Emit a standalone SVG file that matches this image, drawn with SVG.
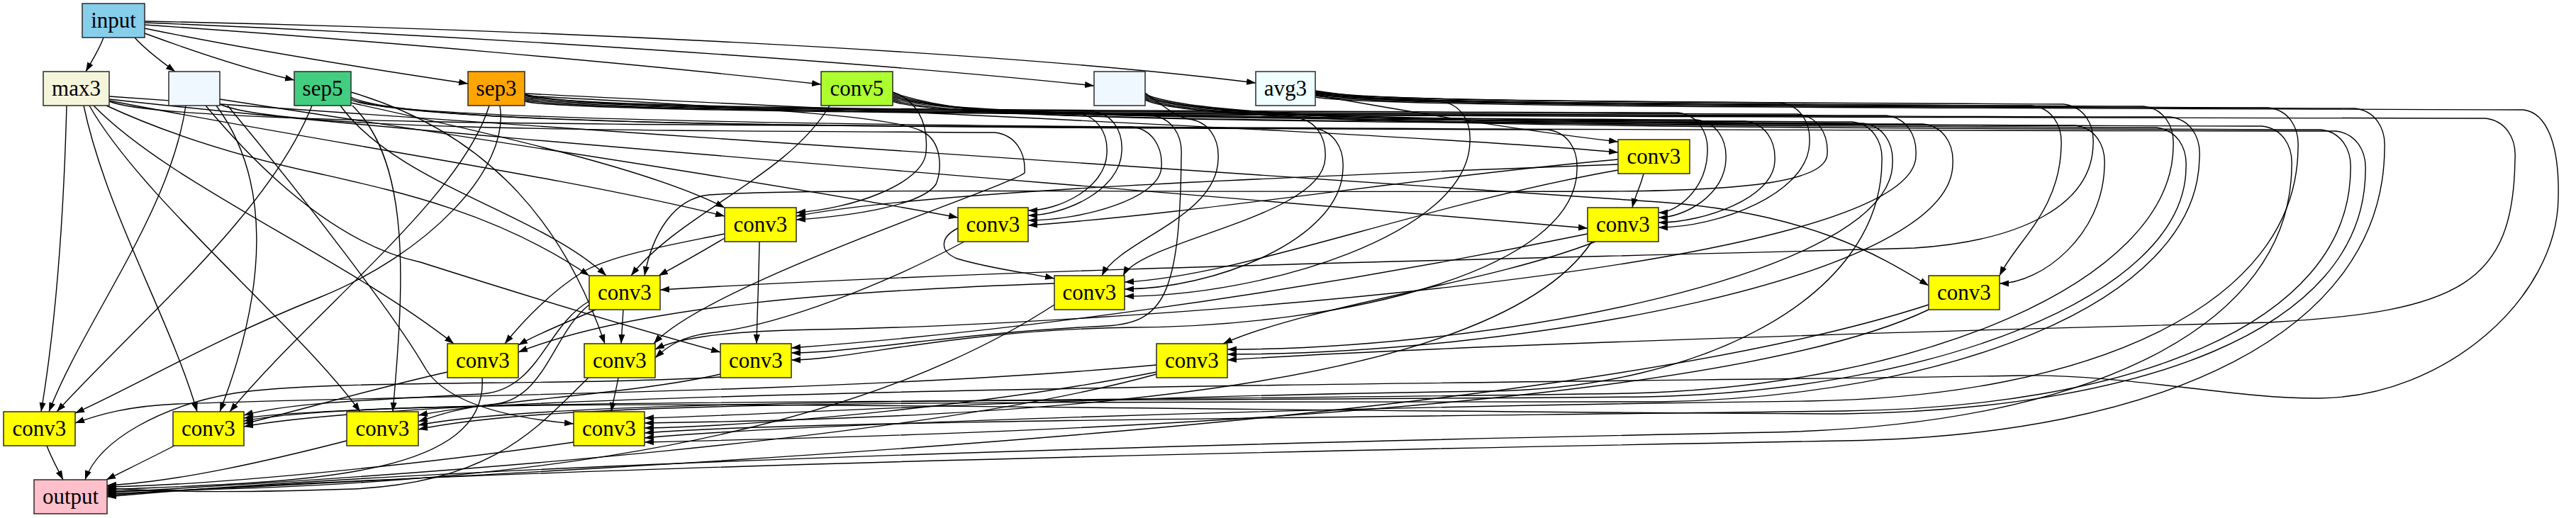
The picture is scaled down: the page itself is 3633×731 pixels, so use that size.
<svg xmlns="http://www.w3.org/2000/svg" width="3633" height="731" viewBox="0 0 3633 731">
<defs>
<marker id="ah" markerWidth="14" markerHeight="10" refX="13" refY="5" orient="auto" markerUnits="userSpaceOnUse"><path d="M0,0.4 L13,5 L0,9.6 z" fill="#000"/></marker>
<style>
.e path{fill:none;stroke:#000;stroke-width:1.4;marker-end:url(#ah)}
.n rect{stroke:#2a2a2a;stroke-width:1.5}
.n text{font-family:'Liberation Serif','Times New Roman',serif;font-size:31px;text-anchor:middle;fill:#000}
.c3 rect{fill:#ffff00}
</style>
</defs>
<rect width="3633" height="731" fill="#fff"/>
<g id="connectors" class="e">
<path d="M 146,53 C 140,70 130,85 121,101"/>
<path d="M 190,53 C 205,70 225,85 247,101"/>
<path d="M 204,47 C 280,75 350,98 415,113"/>
<path d="M 204,40 C 350,70 540,100 660,118"/>
<path d="M 204,35 C 500,55 900,90 1158,119"/>
<path d="M 204,32 C 650,50 1200,85 1543,121"/>
<path d="M 204,30 C 700,40 1400,70 1771,117"/>
<path d="M 94,149 C 90,300 80,450 58,581"/>
<path d="M 118,149 C 150,300 240,450 278,581"/>
<path d="M 126,149 C 200,280 420,460 508,581"/>
<path d="M 132,149 C 240,260 480,360 640,485"/>
<path d="M 150,149 C 260,200 380,230 450,245 C 560,270 700,300 831,389"/>
<path d="M 154,142 C 450,200 800,250 1022,305"/>
<path d="M 154,140 C 600,190 1400,250 2239,322"/>
<path d="M 154,136 C 900,190 2000,260 2339,285 C 2550,300 2650,360 2720,403"/>
<path d="M 154,143 C 234,176 895,176 1596,179 C 1624,182 1640,206 1638,236 C 1636,281 1524,311 1450,311"/>
<path d="M 262,149 C 240,300 120,450 69,581"/>
<path d="M 305,149 C 380,250 380,400 310,581"/>
<path d="M 310,140 C 700,200 1100,260 1351,307"/>
<path d="M 290,149 C 400,280 500,350 593,370 C 750,420 900,465 1016,497"/>
<path d="M 321,149 C 430,280 560,450 600,520 C 630,570 720,590 809,598"/>
<path d="M 310,147 C 390,184 876,184 1403,187 C 1431,190 1447,214 1445,244 C 1420,265 1000,400 922,485"/>
<path d="M 440,149 C 380,300 200,450 80,581"/>
<path d="M 497,149 C 580,230 570,400 554,581"/>
<path d="M 480,149 C 560,260 760,300 855,389"/>
<path d="M 495,130 C 700,190 800,330 853,485"/>
<path d="M 495,145 C 700,190 920,240 1022,293"/>
<path d="M 495,137 C 575,178 1193,178 1852,181 C 1880,184 1896,208 1894,238 C 1892,340 1708,408 1586,408"/>
<path d="M 495,139 C 575,180 1358,180 2182,183 C 2210,186 2226,210 2224,240 C 2222,380 1900,460 1600,462 C 1350,465 1200,508 1116,508"/>
<path d="M 495,141 C 575,182 1915,182 3294,185 C 3322,188 3338,212 3336,242 C 3334,470 3010,578 2600,584 C 1500,580 560,552 344,594"/>
<path d="M 690,149 C 650,280 450,430 324,581"/>
<path d="M 705,149 C 720,240 600,360 450,420 C 300,480 200,540 106,583"/>
<path d="M 740,132 C 1300,160 2000,190 2282,215"/>
<path d="M 740,135 C 1000,150 1250,160 1300,185 C 1330,200 1328,240 1320,260 C 1300,290 1200,305 1123,310"/>
<path d="M 740,133 C 820,154 1160,154 1540,157 C 1568,160 1584,184 1582,214 C 1580,268 1502,304 1450,304"/>
<path d="M 740,135 C 820,156 1573,156 2366,159 C 2394,162 2410,186 2408,216 C 2406,266 2366,300 2339,300"/>
<path d="M 740,137 C 820,158 1657,158 2535,161 C 2563,164 2579,188 2577,218 C 2575,258 2450,270 2250,270 C 1600,272 1150,265 1000,275 C 950,280 920,330 909,389"/>
<path d="M 740,139 C 820,160 1720,160 2660,163 C 2688,166 2704,190 2702,220 C 2700,388 1500,460 1150,465 C 1000,468 950,480 924,493"/>
<path d="M 740,141 C 820,162 1920,162 3060,165 C 3088,168 3104,192 3102,222 C 3100,430 2740,560 2340,567 C 1400,568 800,562 590,606"/>
<path d="M 740,143 C 820,164 2142,164 3505,167 C 3533,170 3549,194 3547,224 C 3545,400 3470,440 3200,455 C 2600,470 2000,490 1731,508"/>
<path d="M 1170,149 C 1110,250 960,300 890,389"/>
<path d="M 1259,130 C 1290,140 1310,170 1306,215 C 1302,260 1200,295 1123,300"/>
<path d="M 1259,131 C 1339,157 1409,157 1519,160 C 1547,163 1563,187 1561,217 C 1559,265 1494,297 1450,297"/>
<path d="M 1259,133 C 1339,160 1461,160 1624,163 C 1652,166 1668,190 1666,220 C 1664,420 1640,455 1560,460 C 1350,470 1200,498 1116,498"/>
<path d="M 1259,135 C 1339,163 1563,163 1827,166 C 1855,169 1871,193 1869,223 C 1867,306 1609,339 1584,389"/>
<path d="M 1259,137 C 1339,166 1845,166 2392,169 C 2420,172 2436,196 2434,226 C 2432,275 2376,307 2339,307"/>
<path d="M 1259,139 C 1339,169 1955,169 2612,172 C 2640,175 2656,199 2654,229 C 2652,420 2400,548 2100,552 C 1500,560 1100,585 909,590"/>
<path d="M 1259,141 C 1339,172 2005,172 2712,175 C 2740,178 2756,202 2754,232 C 2752,393 2139,500 1731,500"/>
<path d="M 1259,143 C 1339,175 2220,175 3190,178 C 3218,181 3234,205 3232,235 C 3230,460 2950,600 2500,610 C 1500,630 600,660 151,701"/>
<path d="M 1615,131 C 1660,165 1665,165 1676,168 C 1704,171 1720,195 1718,225 C 1716,307 1579,339 1554,389"/>
<path d="M 1615,133 C 1695,168 2058,168 2461,171 C 2489,174 2505,198 2503,228 C 2501,279 2404,314 2339,314"/>
<path d="M 1615,135 C 1695,171 2141,171 2627,174 C 2655,177 2671,201 2669,231 C 2667,388 2105,493 1731,493"/>
<path d="M 1615,137 C 1695,174 2290,174 2926,177 C 2954,180 2970,204 2968,234 C 2966,333 2878,400 2820,400"/>
<path d="M 1615,139 C 1695,177 2348,177 3041,180 C 3069,183 3085,207 3083,237 C 3081,420 2720,552 2320,560 C 1400,568 560,562 344,590"/>
<path d="M 1615,141 C 1695,180 2464,180 3273,183 C 3301,186 3317,210 3315,240 C 3313,460 3000,575 2600,580 C 1800,590 1100,595 909,611"/>
<path d="M 1855,134 C 2000,160 2150,185 2282,200"/>
<path d="M 1855,128 C 1935,140 1963,140 2031,143 C 2059,146 2075,170 2073,200 C 2071,331 1780,418 1586,418"/>
<path d="M 1855,129 C 1935,142 2202,142 2510,145 C 2538,148 2554,172 2552,202 C 2550,273 2424,321 2339,321"/>
<path d="M 1855,130 C 1935,144 2402,144 2910,147 C 2938,150 2954,174 2952,204 C 2950,290 2850,340 2700,350 C 2200,365 1500,375 931,409"/>
<path d="M 1855,131 C 1935,146 2380,146 2865,149 C 2893,152 2909,176 2907,206 C 2905,297 2845,339 2820,389"/>
<path d="M 1855,132 C 1935,147 2459,147 3023,150 C 3051,153 3067,177 3065,207 C 3063,400 2700,545 2300,555 C 1500,568 800,560 590,600"/>
<path d="M 1855,133 C 1935,149 2547,149 3199,152 C 3227,155 3243,179 3241,209 C 3239,430 2950,560 2550,566 C 1800,575 1100,600 909,618"/>
<path d="M 1855,135 C 1935,150 2608,150 3321,153 C 3349,156 3365,180 3363,210 C 3361,470 3050,615 2600,622 C 1600,640 600,665 151,699"/>
<path d="M 1855,137 C 1935,152 2700,152 3559,155 C 3590,159 3610,200 3608,280 C 3606,420 3450,560 3271,562 C 3150,563 3000,528 2850,530 C 2300,540 650,545 344,602"/>
<path d="M 2282,232 C 1800,250 1300,270 1123,305"/>
<path d="M 2282,225 C 2000,250 1700,300 1450,318"/>
<path d="M 2318,245 C 2314,262 2306,277 2302,293"/>
<path d="M 2282,240 C 2000,290 1750,390 1586,398"/>
<path d="M 1022,336 C 990,355 960,372 929,389"/>
<path d="M 1071,341 C 1070,400 1068,440 1067,485"/>
<path d="M 1022,330 C 950,345 860,360 820,385 C 780,410 740,450 712,485"/>
<path d="M 1351,322 C 1325,335 1325,355 1350,365 C 1400,380 1450,385 1487,393"/>
<path d="M 1360,341 C 1250,400 1100,460 1000,470 C 960,475 940,490 924,505"/>
<path d="M 2250,341 C 2100,400 1850,430 1725,485"/>
<path d="M 2239,330 C 1800,420 1400,470 1116,491"/>
<path d="M 2245,341 C 2100,560 1400,590 909,597"/>
<path d="M 840,437 C 800,455 760,470 731,487"/>
<path d="M 879,437 C 878,455 877,470 876,485"/>
<path d="M 831,430 C 780,470 770,560 700,570 C 650,575 620,585 590,595"/>
<path d="M 831,425 C 770,460 760,550 680,556 C 500,565 400,570 344,586"/>
<path d="M 1487,400 C 1200,410 900,430 731,497"/>
<path d="M 1487,430 C 1150,650 600,690 151,693"/>
<path d="M 2720,430 C 2200,600 900,660 151,697"/>
<path d="M 2720,437 C 2400,590 1300,615 909,624"/>
<path d="M 631,525 C 520,550 420,580 344,598"/>
<path d="M 680,533 C 690,680 400,680 151,691"/>
<path d="M 872,533 C 869,550 865,565 862,581"/>
<path d="M 830,533 C 760,600 700,680 500,690 C 350,695 250,695 151,689"/>
<path d="M 1016,528 C 900,555 700,565 590,586"/>
<path d="M 1016,532 C 800,545 450,535 330,555 C 230,572 140,620 120,677"/>
<path d="M 1631,525 C 1400,570 1100,600 909,604"/>
<path d="M 1631,515 C 1200,555 500,560 250,570 C 180,573 140,585 106,597"/>
<path d="M 1631,528 C 1300,620 600,670 151,695"/>
<path d="M 66,629 C 72,645 80,660 89,677"/>
<path d="M 246,629 C 215,645 180,662 150,677"/>
<path d="M 489,622 C 380,650 250,680 151,685"/>
<path d="M 809,624 C 600,655 300,685 151,687"/>
</g>
<g font-family="Liberation Serif, Times New Roman, serif" font-size="31" text-anchor="middle">
<g id="node-input" class="n"><rect x="116" y="5" width="88" height="48" fill="#87ceeb"/><text x="160" y="39" font-family="Liberation Serif, serif">input</text></g>
<g id="node-max3" class="n"><rect x="61" y="101" width="93" height="48" fill="#f5f5dc"/><text x="107.5" y="135" font-family="Liberation Serif, serif">max3</text></g>
<g id="node-blank1" class="n"><rect x="238" y="101" width="72" height="48" fill="#f0f8ff"/></g>
<g id="node-sep5" class="n"><rect x="415" y="101" width="80" height="48" fill="#43cd80"/><text x="455" y="135" font-family="Liberation Serif, serif">sep5</text></g>
<g id="node-sep3" class="n"><rect x="660" y="101" width="80" height="48" fill="#ffa500"/><text x="700" y="135" font-family="Liberation Serif, serif">sep3</text></g>
<g id="node-conv5" class="n"><rect x="1158" y="101" width="101" height="48" fill="#adff2f"/><text x="1208.5" y="135" font-family="Liberation Serif, serif">conv5</text></g>
<g id="node-blank2" class="n"><rect x="1543" y="101" width="72" height="48" fill="#f0f8ff"/></g>
<g id="node-avg3" class="n"><rect x="1771" y="101" width="84" height="48" fill="#f0ffff"/><text x="1813" y="135" font-family="Liberation Serif, serif">avg3</text></g>
<g id="node-c8" class="n c3"><rect x="2282" y="197" width="101" height="48"/><text x="2332.5" y="231" font-family="Liberation Serif, serif">conv3</text></g>
<g id="node-c9" class="n c3"><rect x="1022" y="293" width="101" height="48"/><text x="1072.5" y="327" font-family="Liberation Serif, serif">conv3</text></g>
<g id="node-c10" class="n c3"><rect x="1351" y="293" width="99" height="48"/><text x="1400.5" y="327" font-family="Liberation Serif, serif">conv3</text></g>
<g id="node-c11" class="n c3"><rect x="2239" y="293" width="100" height="48"/><text x="2289" y="327" font-family="Liberation Serif, serif">conv3</text></g>
<g id="node-c12" class="n c3"><rect x="831" y="389" width="100" height="48"/><text x="881" y="423" font-family="Liberation Serif, serif">conv3</text></g>
<g id="node-c13" class="n c3"><rect x="1487" y="389" width="99" height="48"/><text x="1536.5" y="423" font-family="Liberation Serif, serif">conv3</text></g>
<g id="node-c14" class="n c3"><rect x="2720" y="389" width="100" height="48"/><text x="2770" y="423" font-family="Liberation Serif, serif">conv3</text></g>
<g id="node-c15" class="n c3"><rect x="631" y="485" width="100" height="48"/><text x="681" y="519" font-family="Liberation Serif, serif">conv3</text></g>
<g id="node-c16" class="n c3"><rect x="824" y="485" width="100" height="48"/><text x="874" y="519" font-family="Liberation Serif, serif">conv3</text></g>
<g id="node-c17" class="n c3"><rect x="1016" y="485" width="100" height="48"/><text x="1066" y="519" font-family="Liberation Serif, serif">conv3</text></g>
<g id="node-c18" class="n c3"><rect x="1631" y="485" width="100" height="48"/><text x="1681" y="519" font-family="Liberation Serif, serif">conv3</text></g>
<g id="node-c19" class="n c3"><rect x="5" y="581" width="101" height="48"/><text x="55.5" y="615" font-family="Liberation Serif, serif">conv3</text></g>
<g id="node-c20" class="n c3"><rect x="244" y="581" width="100" height="48"/><text x="294" y="615" font-family="Liberation Serif, serif">conv3</text></g>
<g id="node-c21" class="n c3"><rect x="489" y="581" width="101" height="48"/><text x="539.5" y="615" font-family="Liberation Serif, serif">conv3</text></g>
<g id="node-c22" class="n c3"><rect x="809" y="581" width="100" height="48"/><text x="859" y="615" font-family="Liberation Serif, serif">conv3</text></g>
<g id="node-output" class="n"><rect x="48" y="677" width="103" height="48" fill="#ffc0cb"/><text x="99.5" y="711" font-family="Liberation Serif, serif">output</text></g>
</g>
</svg>
